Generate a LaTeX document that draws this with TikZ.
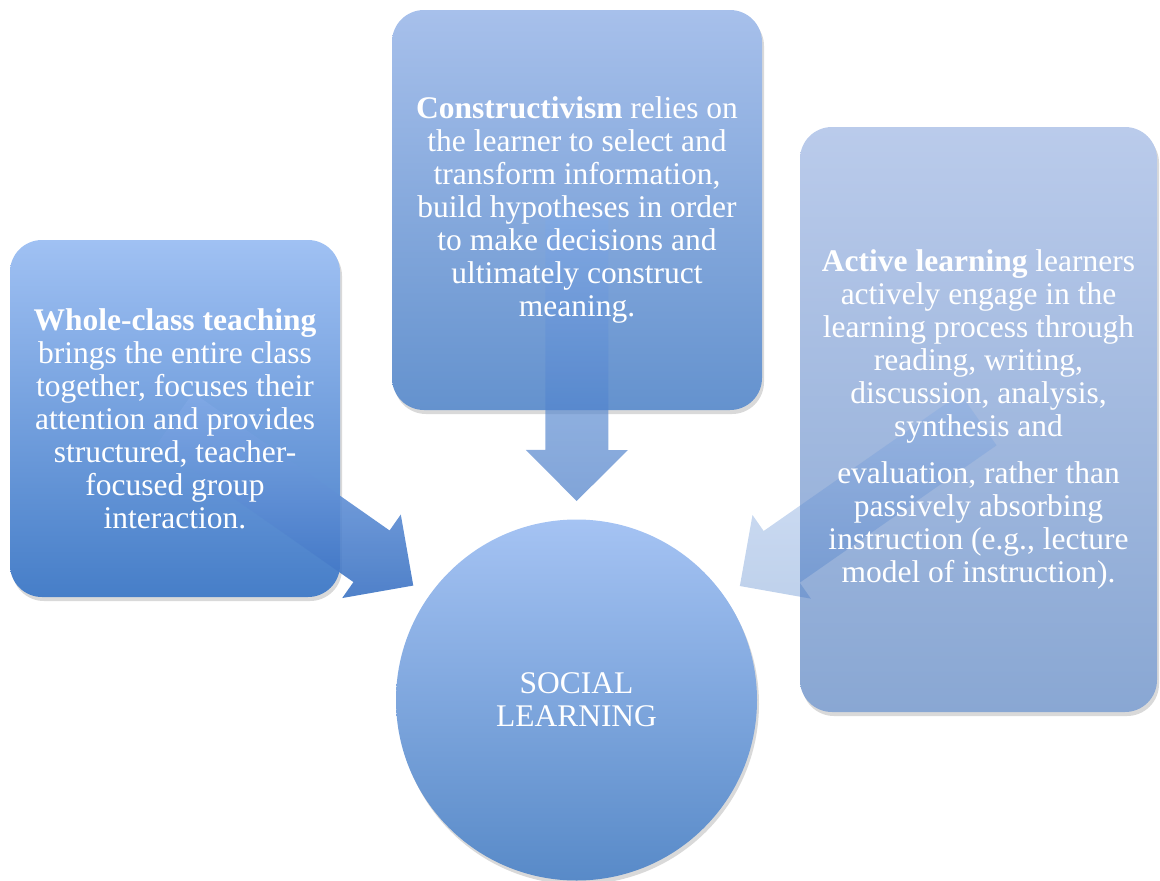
\documentclass[tikz,border=0pt]{standalone}
\usepackage{fontspec}
\setmainfont{Liberation Serif}
\usetikzlibrary{calc,shadows}
\definecolor{lbTop}{RGB}{160,193,243}
\definecolor{lbBot}{RGB}{70,126,200}
\definecolor{mbTop}{RGB}{167,192,235}
\definecolor{mbBot}{RGB}{100,146,206}
\definecolor{rbTop}{RGB}{186,203,235}
\definecolor{rbBot}{RGB}{137,167,211}
\definecolor{ciTop}{RGB}{165,195,243}
\definecolor{ciBot}{RGB}{88,138,200}
\definecolor{arTop}{RGB}{130,170,230}
\definecolor{arBot}{RGB}{60,115,195}
\tikzset{
  boxshape/.style={rectangle, rounded corners=32pt, draw=none, inner sep=0pt,
    drop shadow={shadow xshift=2pt, shadow yshift=-4pt, fill=black, opacity=0.15}},
  lbox/.style={boxshape, top color=lbTop, bottom color=lbBot},
  mbox/.style={boxshape, top color=mbTop, bottom color=mbBot},
  rbox/.style={boxshape, top color=rbTop, bottom color=rbBot},
  hub/.style={circle, draw=none, inner sep=0pt, top color=ciTop, bottom color=ciBot,
    drop shadow={shadow xshift=2pt, shadow yshift=-4pt, fill=black, opacity=0.15}},
  txt/.style={text=white, align=center, inner sep=0pt, font=\fontsize{31.5}{33}\selectfont},
  arrowshade/.style={top color=arTop, bottom color=arBot, draw=none}
}
\newcommand\blockarr[3]{%
  \path (#1.center) coordinate (ba0)
        ($(#1.center)!240pt!(#2.center)$) coordinate (ba1)
        ($(#1.center)!291pt!(#2.center)$) coordinate (ba2);
  \shade[arrowshade, #3]
    ($(ba0)!31.5pt!90:(#2.center)$) -- ($(ba1)!31.5pt!90:(#2.center)$)
    -- ($(ba1)!51pt!90:(#2.center)$) -- (ba2)
    -- ($(ba1)!51pt!-90:(#2.center)$) -- ($(ba1)!31.5pt!-90:(#2.center)$)
    -- ($(ba0)!31.5pt!-90:(#2.center)$) -- cycle;}
\begin{document}
\begin{tikzpicture}[x=1pt,y=-1pt]
\useasboundingbox (0,0) rectangle (1160,881);
% boxes
\node[lbox, minimum width=330pt, minimum height=357pt] (L) at (175,418.5) {};
\node[mbox, minimum width=370pt, minimum height=400pt] (M) at (577,210) {};
\node[rbox, minimum width=357pt, minimum height=585pt] (R) at (978.5,419.5) {};
\node[hub, minimum size=361pt] (S) at (576.5,700) {};
% arrows
\blockarr{L}{S}{opacity=0.9}
\blockarr{M}{S}{opacity=0.65}
\blockarr{R}{S}{opacity=0.33}
% texts
\node[txt] (Lt) at (L.center) {\textbf{Whole-class teaching}\\brings the entire class\\together, focuses their\\attention and provides\\structured, teacher-\\focused group\\interaction.};
\node[txt] (Mt) at (M.center) {\textbf{Constructivism} relies on\\the learner to select and\\transform information,\\build hypotheses in order\\to make decisions and\\ultimately construct\\meaning.};
\node[txt] (Rt) at (R.center) {\textbf{Active learning} learners\\actively engage in the\\learning process through\\reading, writing,\\discussion, analysis,\\synthesis and\\[14pt]evaluation, rather than\\passively absorbing\\instruction (e.g., lecture\\model of instruction).};
\node[txt] (St) at (S.center) {SOCIAL\\LEARNING};
\end{tikzpicture}
\end{document}
